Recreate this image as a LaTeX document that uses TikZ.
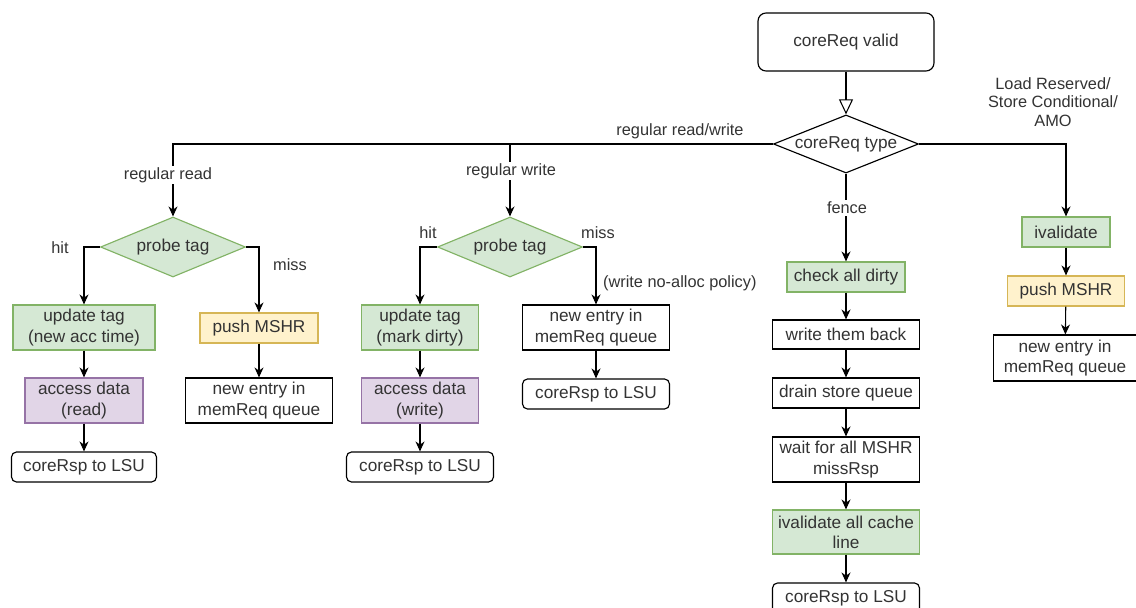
\documentclass[tikz,border=0pt]{standalone}
\usepackage{fontspec}
\setmainfont{Liberation Sans}
\usetikzlibrary{shapes.geometric, arrows.meta}

\definecolor{gfill}{HTML}{D5E8D4}
\definecolor{gline}{HTML}{82B366}
\definecolor{pfill}{HTML}{E1D5E7}
\definecolor{pline}{HTML}{9673A6}
\definecolor{yfill}{HTML}{FFF2CC}
\definecolor{yline}{HTML}{D6B656}
\definecolor{txt}{HTML}{333333}

\tikzset{
  base/.style={draw, align=center, inner sep=1pt, text=txt,
    font=\fontsize{9.8}{11.5}\selectfont, line width=0.65pt},
  sz/.style 2 args={minimum width=#1cm, minimum height=#2cm},
  plain/.style={base, fill=white},
  rnd/.style={plain, rounded corners=0.1cm},
  grn/.style={base, fill=gfill, draw=gline},
  prp/.style={base, fill=pfill, draw=pline},
  ylw/.style={base, fill=yfill, draw=yline},
  decide/.style={base, diamond, shape aspect=2.4, inner sep=0pt},
  lbl/.style={text=txt, font=\fontsize{9.3}{10.5}\selectfont, inner sep=1pt, align=center},
  arr/.style={-{Stealth[length=0.2cm, width=0.18cm]}, line width=0.6pt},
}

\begin{document}
\begin{tikzpicture}[x=0.02cm, y=-0.02cm]
            \clip (0,0) rectangle (1136,608);

            % Entree et aiguillage
            \node[plain, sz={3.52}{1.16}, rounded corners=0.16cm] (valid) at (846,42) {coreReq valid};
            \node[decide, fill=white, sz={2.9}{1.16}] (type) at (846,144) {coreReq type};
            \draw[-{Triangle[open, length=0.3cm, width=0.28cm]}, line width=0.6pt] (valid) -- (type);

            % Lecture (gauche)
            \node[decide, fill=gfill, draw=gline, sz={2.9}{1.2}] (probeR) at (173,247) {probe tag};
            \node[grn, sz={2.84}{0.9}] (updR) at (84,327.5) {update tag\\(new acc time)};
            \node[prp, sz={2.36}{0.9}] (accR) at (84,400.5) {access data\\(read)};
            \node[rnd, sz={2.9}{0.6}] (rspR) at (84,467) {coreRsp to LSU};
            \node[ylw, sz={2.36}{0.6}] (pushR) at (259,328) {push MSHR};
            \node[plain, sz={2.94}{0.9}] (memR) at (259,400.5) {new entry in\\memReq queue};

            % Ecriture (milieu)
            \node[decide, fill=gfill, draw=gline, sz={2.9}{1.2}] (probeW) at (510,247) {probe tag};
            \node[grn, sz={2.34}{0.9}] (updW) at (420,327.5) {update tag\\(mark dirty)};
            \node[prp, sz={2.34}{0.9}] (accW) at (420,400.5) {access data\\(write)};
            \node[rnd, sz={2.94}{0.6}] (rspW) at (420,467) {coreRsp to LSU};
            \node[plain, sz={2.94}{0.9}] (memW) at (596,327.5) {new entry in\\memReq queue};
            \node[rnd, sz={2.94}{0.6}] (rspM) at (596,394) {coreRsp to LSU};

            % Fence
            \node[grn, sz={2.36}{0.6}] (chk) at (846,277) {check all dirty};
            \node[plain, sz={2.94}{0.58}] (wb) at (846,334.5) {write them back};
            \node[plain, sz={2.94}{0.6}] (drain) at (846,393) {drain store queue};
            \node[plain, sz={2.94}{0.9}] (wait) at (846,459.5) {wait for all MSHR\\missRsp};
            \node[grn, sz={2.94}{0.88}] (invall) at (846,532) {ivalidate all cache\\line};
            \node[rnd, sz={2.94}{0.6}] (rspF) at (846,598) {coreRsp to LSU};

            % LR/SC/AMO (droite)
            \node[grn, sz={1.76}{0.6}] (inv) at (1066,232) {ivalidate};
            \node[ylw, sz={2.34}{0.6}] (pushA) at (1066,291) {push MSHR};
            \node[plain, sz={2.86}{0.92}] (memA) at (1065,358) {new entry in\\memReq queue};

            % Liaisons
            \draw[arr] (type.west) -| (probeR.north);
            \draw[arr] (probeW.north |- type.west) -- (probeW.north);
            \draw[arr] (type.east) -| (inv.north);
            \draw[arr] (type.south) -- (chk.north);

            \draw[arr] (probeR.west) -| (updR.north);
            \draw[arr] (probeR.east) -| (pushR.north);
            \draw[arr] (updR) -- (accR);
            \draw[arr] (accR) -- (rspR);
            \draw[arr] (pushR) -- (memR);

            \draw[arr] (probeW.west) -| (updW.north);
            \draw[arr] (probeW.east) -| (memW.north);
            \draw[arr] (updW) -- (accW);
            \draw[arr] (accW) -- (rspW);
            \draw[arr] (memW) -- (rspM);

            \foreach \a/\b in {chk/wb, wb/drain, drain/wait, wait/invall, invall/rspF} {
                \draw[arr] (\a) -- (\b);
            }
            \draw[arr] (inv) -- (pushA);
            \draw[arr] (pushA) -- (memA);

            % Etiquettes
            \node[lbl] (tRW) at (680,131) {regular read/write};
            \node[lbl, fill=white] (tR) at (168,175) {regular read};
            \node[lbl, fill=white] (tW) at (511,171) {regular write};
            \node[lbl, fill=white] (tF) at (847,208) {fence};
            \node[lbl] (tA) at (1053,102) {Load Reserved/\\Store Conditional/\\AMO};
            \node[lbl] (hR) at (60,248) {hit};
            \node[lbl] (mR) at (290,265) {miss};
            \node[lbl] (hW) at (428,233) {hit};
            \node[lbl] (mW) at (598,233) {miss};
            \node[lbl, anchor=west] (pol) at (601,283) {(write no-alloc policy)};

\end{tikzpicture}
\end{document}
